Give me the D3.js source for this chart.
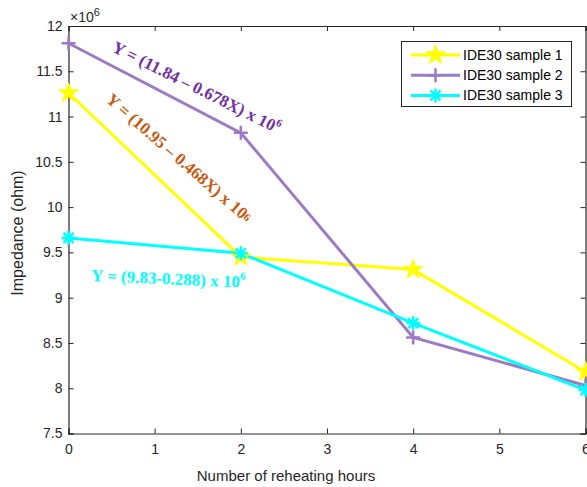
<!DOCTYPE html>
<html><head><meta charset="utf-8">
<script src="https://cdn.jsdelivr.net/npm/d3@7/dist/d3.min.js"></script>
<style>body{margin:0;background:#fff}svg{display:block}text{font-family:"Liberation Sans",Arial,sans-serif}</style>
</head><body>
<script>
const hours = [0, 2, 4, 6];
const sample1 = [11.26, 9.45, 9.31, 8.18];
const sample2 = [11.81, 10.82, 8.56, 8.03];
const sample3 = [9.66, 9.49, 8.72, 7.98];
const seriesNames = ["IDE30 sample 1", "IDE30 sample 2", "IDE30 sample 3"];
const seriesColors = ["#ffff00", "#9b7cc4", "#00ffff"];
const seriesMarkers = ["star", "plus", "asterisk"];
const xTicks = [0, 1, 2, 3, 4, 5, 6];
const yTicks = [7.5, 8, 8.5, 9, 9.5, 10, 10.5, 11, 11.5, 12];
const xTitle = "Number of reheating hours";
const yTitle = "Impedance (ohm)";
const annotations = [
  {text: "Y = (11.84 \u2013 0.678X) x 10", sup: "6", color: "#7030a0", x: 111, y: 51, angle: 26.5, supDy: -7},
  {text: "Y = (10.95 \u2013 0.468X) x 10", sup: "6", color: "#c55a11", x: 105, y: 101, angle: 41, supDy: -2},
  {text: "Y = (9.83-0.288) x 10", sup: "6", color: "#00ffff", x: 91, y: 281, angle: 2.5, supDy: -8}
];

const W = 587, H = 487;
const L = 68.5, R = 585.5, T = 26, B = 433.5;
const svg = d3.select("body").append("svg").attr("width", W).attr("height", H);
const x = d3.scaleLinear().domain([0, 6]).range([L, R]);
const y = d3.scaleLinear().domain([7.5, 12]).range([B, T]);
const axisColor = "#262626";

// axes
const gx = svg.append("g").attr("transform", `translate(0,${B})`)
  .call(d3.axisBottom(x).tickValues(xTicks).tickSize(-5).tickPadding(11).tickFormat(d3.format("d")));
const gxt = svg.append("g").attr("transform", `translate(0,${T})`)
  .call(d3.axisTop(x).tickValues(xTicks).tickSize(-5).tickFormat(""));
const gy = svg.append("g").attr("transform", `translate(${L},0)`)
  .call(d3.axisLeft(y).tickValues(yTicks).tickSize(-5).tickPadding(6).tickFormat(d => d));
const gyr = svg.append("g").attr("transform", `translate(${R},0)`)
  .call(d3.axisRight(y).tickValues(yTicks).tickSize(-5).tickFormat(""));
[gx, gxt, gy, gyr].forEach(g => {
  g.select(".domain").attr("stroke", axisColor).attr("stroke-width", 1.2);
  g.selectAll(".tick line").attr("stroke", axisColor).attr("stroke-width", 1);
  g.selectAll(".tick text").attr("fill", axisColor).style("font-size", "14px");
});
gx.selectAll(".tick text").attr("dy", "0.71em");

// exponent label
const ex = svg.append("text").attr("x", 70).attr("y", 22).attr("fill", axisColor).style("font-size", "14px");
ex.append("tspan").text("\u00d710");
ex.append("tspan").attr("dy", -6).style("font-size", "11px").text("6");

// axis titles
svg.append("text").attr("x", 286).attr("y", 481).attr("text-anchor", "middle")
  .attr("fill", axisColor).style("font-size", "15px").text(xTitle);
svg.append("text").attr("transform", `translate(23,233) rotate(-90)`).attr("text-anchor", "middle")
  .attr("fill", axisColor).style("font-size", "16px").text(yTitle);

// markers
function marker(g, type, color) {
  if (type === "star") {
    g.append("path").attr("d", d3.symbol().type(d3.symbolStar).size(120)()).attr("fill", color).attr("stroke", color).attr("stroke-width", 1);
  } else if (type === "plus") {
    g.append("path").attr("d", "M-7,0H7M0,-7V7").attr("stroke", color).attr("stroke-width", 2.5).attr("fill", "none");
  } else {
    g.append("path").attr("d", "M-7,0H7M0,-7V7M-5,-5L5,5M-5,5L5,-5").attr("stroke", color).attr("stroke-width", 2.5).attr("fill", "none");
  }
}

const data = [sample1, sample2, sample3];
const line = d3.line().x((d, i) => x(hours[i])).y(d => y(d));
const plot = svg.append("g");
data.forEach((vals, k) => {
  plot.append("path").datum(vals).attr("d", line).attr("fill", "none")
    .attr("stroke", seriesColors[k]).attr("stroke-width", 3).attr("stroke-linejoin", "miter");
});
data.forEach((vals, k) => {
  vals.forEach((v, i) => {
    const g = plot.append("g").attr("transform", `translate(${x(hours[i])},${y(v)})`);
    marker(g, seriesMarkers[k], seriesColors[k]);
  });
});

// annotations
annotations.forEach(a => {
  const t = svg.append("text").attr("transform", `translate(${a.x},${a.y}) rotate(${a.angle})`)
    .attr("fill", a.color).style("font-family", "'Liberation Serif','Times New Roman',serif")
    .style("font-weight", "bold").style("font-size", "17px");
  t.append("tspan").text(a.text);
  t.append("tspan").attr("dy", a.supDy).style("font-size", "11px").text(a.sup);
});

// legend
const lg = svg.append("g");
lg.append("rect").attr("x", 401.5).attr("y", 41.5).attr("width", 170).attr("height", 65)
  .attr("fill", "#fff").attr("stroke", axisColor).attr("stroke-width", 1);
seriesNames.forEach((name, k) => {
  const yy = 55 + k * 20.2;
  lg.append("line").attr("x1", 411).attr("x2", 460).attr("y1", yy).attr("y2", yy)
    .attr("stroke", seriesColors[k]).attr("stroke-width", 3);
  const g = lg.append("g").attr("transform", `translate(435.5,${yy})`);
  marker(g, seriesMarkers[k], seriesColors[k]);
  lg.append("text").attr("x", 463).attr("y", yy + 5).attr("fill", "#000").style("font-size", "14px").text(name);
});
</script>
</body></html>
